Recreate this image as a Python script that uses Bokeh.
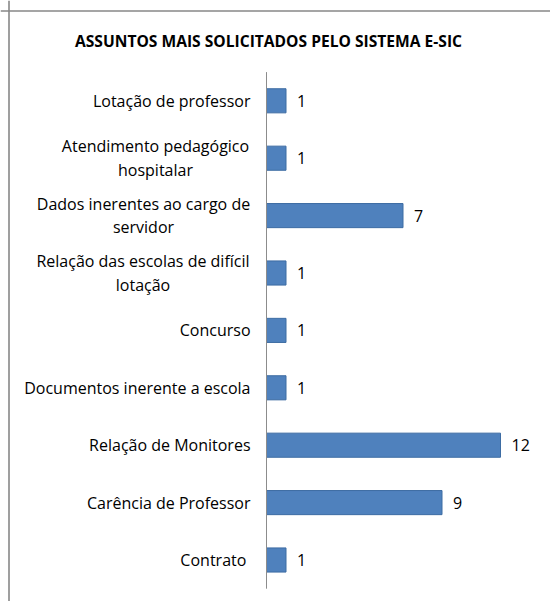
from bokeh.plotting import figure
from bokeh.models import Range1d, Span, ColumnDataSource
from bokeh.embed import file_html
from bokeh.resources import INLINE
from bokeh.core.properties import value

# ---- data ----
title_text = "ASSUNTOS MAIS SOLICITADOS PELO SISTEMA E-SIC"
categories = [
    "Lotação de professor",
    "Atendimento pedagógico\nhospitalar",
    "Dados inerentes ao cargo de\nservidor",
    "Relação das escolas de difícil\nlotação",
    "Concurso",
    "Documentos inerente a escola",
    "Relação de Monitores",
    "Carência de Professor",
    "Contrato ",
]
counts = [1, 1, 7, 1, 1, 1, 12, 9, 1]

# ---- layout constants ----
W, H = 550, 601
PPU_X = 19.5          # pixels per unit on x
AXIS_PX = 266         # canvas x of value 0
PPU_Y = 57.4          # pixels between categories
BOTTOM_CAT_PX = 559.5 # canvas y of the last category centre
FONT = "Open Sans"
FSIZE = "16px"
LABEL_GAP = 16
BLOCK_W = {  # approx widths of two-line label blocks (px)
    "Atendimento pedagógico\nhospitalar": 190,
    "Dados inerentes ao cargo de\nservidor": 214,
    "Relação das escolas de difícil\nlotação": 215,
}

n = len(categories)
pos = [n - 1 - i for i in range(n)]

x0, x1 = -AXIS_PX / PPU_X, (W - AXIS_PX) / PPU_X
y0, y1 = -(H - BOTTOM_CAT_PX) / PPU_Y, BOTTOM_CAT_PX / PPU_Y

p = figure(width=W, height=H, output_backend="svg", toolbar_location=None,
           x_range=Range1d(x0, x1), y_range=Range1d(y0, y1),
           min_border=0, outline_line_color=None)
p.axis.visible = False
p.grid.visible = False
p.background_fill_color = "white"
p.border_fill_color = "white"

# chart border (left and top visible)
p.add_layout(Span(location=x0 + 8.5 / PPU_X, dimension="height",
                  line_color="#878787", line_width=1.6))
p.add_layout(Span(location=y1 - 10.5 / PPU_Y, dimension="width",
                  line_color="#878787", line_width=1.6))

# bars
src = ColumnDataSource(dict(y=pos, v=counts, cat=categories,
                            lbl=[str(c) for c in counts]))
p.hbar(y="y", left=0, right="v", height=0.42, source=src,
       fill_color="#4F81BD", line_color="#3D6CA3", line_width=1)

# vertical category axis line
p.line(x=[0, 0], y=[-0.5, n - 0.5], line_color="#8C8C8C", line_width=1)

# value labels
p.text(x="v", y="y", text="lbl", source=src, x_offset=11,
       text_align="left", text_baseline="middle",
       text_font=value(FONT), text_font_size=FSIZE, text_color="#000000")

# category labels
aligns, offs = [], []
for c in categories:
    if "\n" in c:
        aligns.append("center")
        offs.append(-(LABEL_GAP + BLOCK_W[c] / 2))
    else:
        aligns.append("right")
        offs.append(-LABEL_GAP)
lsrc = ColumnDataSource(dict(x=[0] * n, y=pos, t=categories, a=aligns, o=offs))
p.text(x="x", y="y", text="t", source=lsrc, x_offset="o", text_align="a",
       text_baseline="middle", text_line_height=1.08,
       text_font=value(FONT), text_font_size=FSIZE, text_color="#000000")

# title
p.text(x=[x0 + 268 / PPU_X], y=[y1 - 40 / PPU_Y], text=[title_text],
       text_align="center", text_baseline="middle",
       text_font=value(FONT), text_font_size="15.6px",
       text_font_style="bold", text_color="#000000")

open("out.html", "w").write(file_html(p, INLINE))
